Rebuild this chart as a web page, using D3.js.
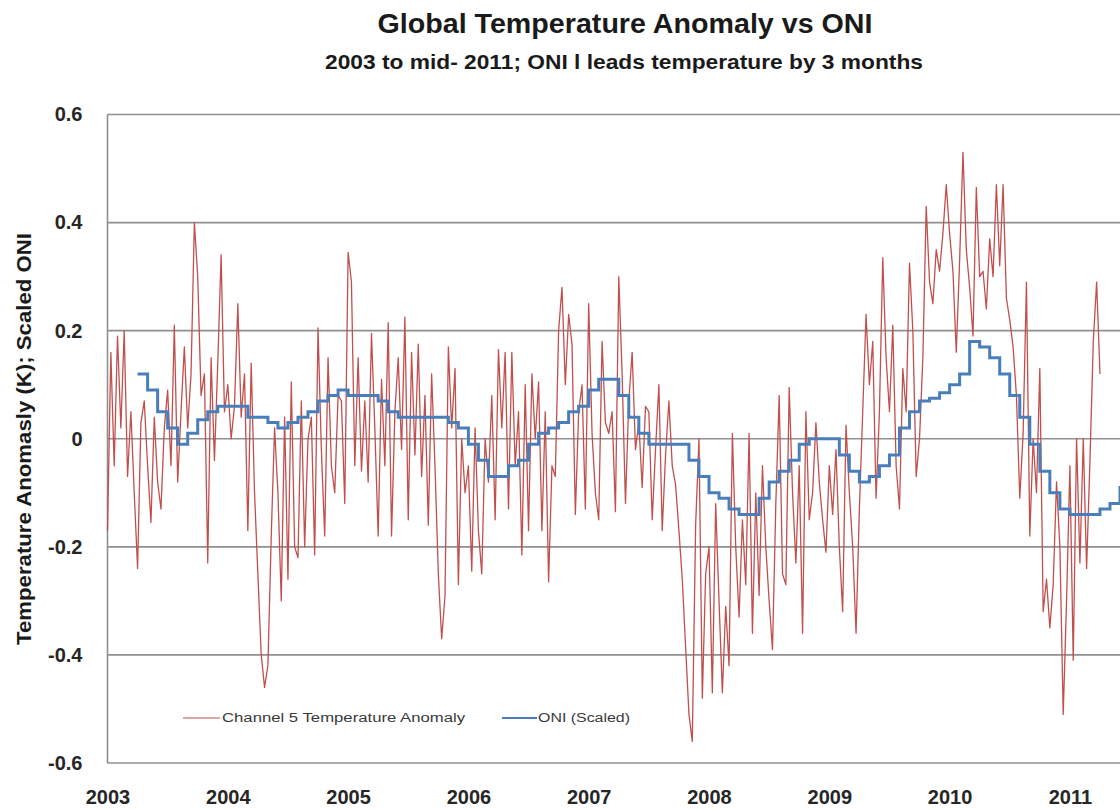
<!DOCTYPE html>
<html>
<head>
<meta charset="utf-8">
<script src="https://cdnjs.cloudflare.com/ajax/libs/d3/7.8.5/d3.min.js"></script>
<style>
  body { margin: 0; background: #fff; }
  text { font-family: "Liberation Sans", Arial, sans-serif; }
</style>
</head>
<body>
<div id="svg-area"></div>
<script>

// Temperature anomaly, one value every 1/36 of a year
var temp2003 = [-0.17, 0.16, -0.05, 0.19, 0.02, 0.20, -0.07, 0.05, -0.10, -0.24, 0.03, 0.07,
  -0.05, -0.155, 0.04, -0.08, -0.13, 0.02, 0.09, -0.05, 0.21, -0.08, 0.05, 0.17,
  0.02, 0.12, 0.40, 0.30, 0.08, 0.12, -0.23, 0.15, -0.04, 0.14, 0.34, 0.05];
var temp2004 = [0.10, 0.00, 0.06, 0.25, 0.04, 0.12, -0.17, 0.14, -0.10, -0.25, -0.40, -0.46,
  -0.42, -0.18, 0.02, -0.10, -0.30, 0.04, -0.26, 0.105, -0.20, -0.22, 0.07, -0.20,
  0.00, 0.04, -0.215, 0.205, -0.02, -0.18, 0.15, -0.05, -0.10, 0.08, 0.07, -0.12];
var temp2005 = [0.345, 0.29, -0.05, 0.15, -0.06, 0.07, -0.08, 0.195, 0.02, -0.18, 0.11, -0.05,
  0.215, -0.18, 0.05, 0.15, -0.02, 0.225, -0.15, 0.16, -0.03, 0.175, -0.07, 0.08,
  -0.16, 0.12, -0.05, -0.25, -0.37, -0.29, 0.17, 0.02, 0.13, -0.27, 0.00, -0.10];
var temp2006 = [-0.05, -0.245, 0.02, -0.17, -0.25, 0.00, -0.08, 0.08, -0.15, 0.165, 0.02, 0.16,
  -0.13, 0.16, -0.05, 0.05, -0.215, 0.10, -0.17, 0.12, 0.00, 0.105, -0.17, 0.05,
  -0.265, -0.05, -0.07, 0.20, 0.28, 0.10, 0.23, 0.175, -0.14, 0.05, 0.10, -0.13];
var temp2007 = [0.25, 0.01, -0.10, -0.15, 0.18, 0.03, 0.01, 0.05, -0.135, 0.30, 0.12, -0.12,
  0.07, 0.16, -0.02, 0.03, -0.09, 0.06, 0.05, -0.15, -0.02, 0.10, -0.17, -0.03,
  0.07, -0.05, -0.085, -0.17, -0.26, -0.385, -0.51, -0.56, -0.16, 0.00, -0.48, -0.25];
var temp2008 = [-0.20, -0.47, -0.12, -0.30, -0.47, -0.31, -0.42, 0.01, -0.20, -0.33, -0.15, -0.27,
  0.01, -0.36, -0.10, -0.29, -0.05, -0.20, -0.30, -0.39, -0.12, 0.08, -0.25, -0.27,
  0.095, -0.10, -0.23, -0.05, -0.36, 0.05, -0.15, -0.10, 0.03, -0.08, -0.15, -0.21];
var temp2009 = [-0.05, -0.14, -0.02, -0.20, -0.32, 0.025, -0.10, -0.20, -0.36, -0.13, 0.05, 0.23,
  0.10, 0.18, -0.11, 0.05, 0.335, 0.15, 0.05, 0.21, -0.05, -0.13, 0.13, 0.05,
  0.325, 0.20, -0.07, 0.00, 0.15, 0.43, 0.29, 0.25, 0.35, 0.31, 0.38, 0.47];
var temp2010 = [0.38, 0.31, 0.16, 0.33, 0.53, 0.35, 0.28, 0.19, 0.465, 0.30, 0.31, 0.24,
  0.37, 0.30, 0.47, 0.32, 0.47, 0.26, 0.22, 0.17, 0.08, -0.11, 0.01, 0.29,
  -0.18, 0.00, -0.10, 0.13, -0.32, -0.26, -0.35, -0.27, -0.08, -0.20, -0.51, -0.30];
var temp2011 = [-0.05, -0.41, 0.00, -0.23, 0.00, -0.24, -0.04, 0.18, 0.29, 0.12];

var tempYears = [2003, 2004, 2005, 2006, 2007, 2008, 2009, 2010, 2011];
var tempByYear = [temp2003, temp2004, temp2005, temp2006, temp2007, temp2008, temp2009, temp2010, temp2011];

// Scaled ONI, monthly, first month = April 2003
var oniStart = 2003.25;
var oniScaled = [0.12, 0.09, 0.05, 0.02, -0.01, 0.01, 0.035, 0.05, 0.06, 0.06,
  0.06, 0.04, 0.04, 0.03, 0.02, 0.03, 0.04, 0.05, 0.07, 0.08,
  0.09, 0.08, 0.08, 0.08, 0.07, 0.05, 0.04, 0.04, 0.04, 0.04,
  0.04, 0.03, 0.02, -0.01, -0.04, -0.07, -0.07, -0.05, -0.04, -0.01,
  0.01, 0.02, 0.03, 0.05, 0.06, 0.09, 0.11, 0.11, 0.08, 0.04,
  0.01, -0.01, -0.01, -0.01, -0.01, -0.04, -0.07, -0.10, -0.11, -0.13,
  -0.14, -0.14, -0.11, -0.08, -0.06, -0.04, -0.01, 0.00, 0.00, 0.00,
  -0.03, -0.06, -0.08, -0.07, -0.05, -0.03, 0.02, 0.05, 0.07, 0.075,
  0.085, 0.10, 0.12, 0.18, 0.17, 0.15, 0.12, 0.08, 0.04, -0.01,
  -0.06, -0.10, -0.13, -0.14, -0.14, -0.14, -0.13, -0.12, -0.09];

var yTicks = [-0.6, -0.4, -0.2, 0, 0.2, 0.4, 0.6];
var xTicks = [2003, 2004, 2005, 2006, 2007, 2008, 2009, 2010, 2011];


// SVG area
var svgWidth = 1120;
var svgHeight = 809;

var plot = { left: 107.5, top: 114.5, bottom: 763 };
var yearWidth = 120.3;

var svg = d3.select("#svg-area")
  .append("svg")
  .attr("width", svgWidth)
  .attr("height", svgHeight);

// Scales (the chart runs past the right edge of the picture)
var xScale = d3.scaleLinear()
  .domain([2003, 2012])
  .range([plot.left, plot.left + 9 * yearWidth]);

var yScale = d3.scaleLinear()
  .domain([-0.6, 0.6])
  .range([plot.bottom, plot.top]);

// Gridlines
svg.append("g")
  .selectAll("line")
  .data(yTicks)
  .enter()
  .append("line")
  .attr("x1", plot.left)
  .attr("x2", svgWidth)
  .attr("y1", d => yScale(d))
  .attr("y2", d => yScale(d))
  .attr("stroke", "#8f8f8f")
  .attr("stroke-width", 1.6);

// left border of plot
svg.append("line")
  .attr("x1", plot.left).attr("x2", plot.left)
  .attr("y1", plot.top).attr("y2", plot.bottom)
  .attr("stroke", "#8f8f8f")
  .attr("stroke-width", 1.6);

// Y axis labels
var leftAxis = d3.axisLeft(yScale)
  .tickValues(yTicks)
  .tickSize(0)
  .tickPadding(25)
  .tickFormat(d => d === 0 ? "0" : d.toFixed(1));

var yAxisG = svg.append("g")
  .attr("transform", `translate(${plot.left}, 0)`)
  .call(leftAxis);
yAxisG.select(".domain").remove();
yAxisG.selectAll("text")
  .attr("font-family", "Liberation Sans, Arial, sans-serif")
  .attr("font-size", "20px")
  .attr("font-weight", "bold")
  .attr("fill", "#262626");

// X axis labels
var bottomAxis = d3.axisBottom(xScale)
  .tickValues(xTicks)
  .tickSize(0)
  .tickPadding(27)
  .tickFormat(d3.format("d"));

var xAxisG = svg.append("g")
  .attr("transform", `translate(0, ${plot.bottom})`)
  .call(bottomAxis);
xAxisG.select(".domain").remove();
xAxisG.selectAll("text")
  .attr("font-family", "Liberation Sans, Arial, sans-serif")
  .attr("font-size", "20px")
  .attr("font-weight", "bold")
  .attr("fill", "#262626");

// Temperature series
var tempPoints = [];
tempByYear.forEach(function(values, k) {
  values.forEach(function(v, i) {
    tempPoints.push({ t: tempYears[k] + i / 36, v: v });
  });
});

var tempLine = d3.line()
  .x(d => xScale(d.t))
  .y(d => yScale(d.v));

svg.append("path")
  .datum(tempPoints)
  .attr("fill", "none")
  .attr("stroke", "#c0504d")
  .attr("stroke-width", 1.3)
  .attr("stroke-linejoin", "round")
  .attr("d", tempLine);

// ONI series (monthly steps)
var oniPoints = oniScaled.map((v, m) => ({ t: oniStart + m / 12, v: v }));
oniPoints.push({ t: oniStart + oniScaled.length / 12, v: oniScaled[oniScaled.length - 1] });

var oniLine = d3.line()
  .curve(d3.curveStepAfter)
  .x(d => xScale(d.t))
  .y(d => yScale(d.v));

svg.append("path")
  .datum(oniPoints)
  .attr("fill", "none")
  .attr("stroke", "#4a7ebb")
  .attr("stroke-width", 3)
  .attr("d", oniLine);

// Titles
svg.append("text")
  .attr("x", 625)
  .attr("y", 33)
  .attr("text-anchor", "middle")
  .attr("font-size", "27px")
  .attr("font-weight", "bold")
  .attr("fill", "#1a1a1a")
  .attr("textLength", 495)
  .attr("lengthAdjust", "spacingAndGlyphs")
  .text("Global Temperature Anomaly vs ONI");

svg.append("text")
  .attr("x", 624)
  .attr("y", 69)
  .attr("text-anchor", "middle")
  .attr("font-size", "21px")
  .attr("font-weight", "bold")
  .attr("fill", "#1a1a1a")
  .attr("textLength", 598)
  .attr("lengthAdjust", "spacingAndGlyphs")
  .text("2003 to mid- 2011;  ONI l leads temperature by 3  months");

// Y axis title
svg.append("text")
  .attr("transform", `translate(31, 439) rotate(-90)`)
  .attr("text-anchor", "middle")
  .attr("font-size", "20px")
  .attr("font-weight", "bold")
  .attr("fill", "#1a1a1a")
  .attr("textLength", 412)
  .attr("lengthAdjust", "spacingAndGlyphs")
  .text("Temperature Anomasly (K); Scaled ONI");

// Legend
var legend = svg.append("g");

legend.append("line")
  .attr("x1", 183).attr("x2", 220)
  .attr("y1", 718).attr("y2", 718)
  .attr("stroke", "#d08a88")
  .attr("stroke-width", 1.3);

legend.append("text")
  .attr("x", 222)
  .attr("y", 722)
  .attr("font-size", "12px")
  .attr("fill", "#3a3a3a")
  .attr("textLength", 243)
  .attr("lengthAdjust", "spacingAndGlyphs")
  .text("Channel 5 Temperature Anomaly");

legend.append("line")
  .attr("x1", 502).attr("x2", 537)
  .attr("y1", 718).attr("y2", 718)
  .attr("stroke", "#4a7ebb")
  .attr("stroke-width", 2);

legend.append("text")
  .attr("x", 538)
  .attr("y", 722)
  .attr("font-size", "12px")
  .attr("fill", "#3a3a3a")
  .attr("textLength", 92)
  .attr("lengthAdjust", "spacingAndGlyphs")
  .text("ONI (Scaled)");

</script>
</body>
</html>
